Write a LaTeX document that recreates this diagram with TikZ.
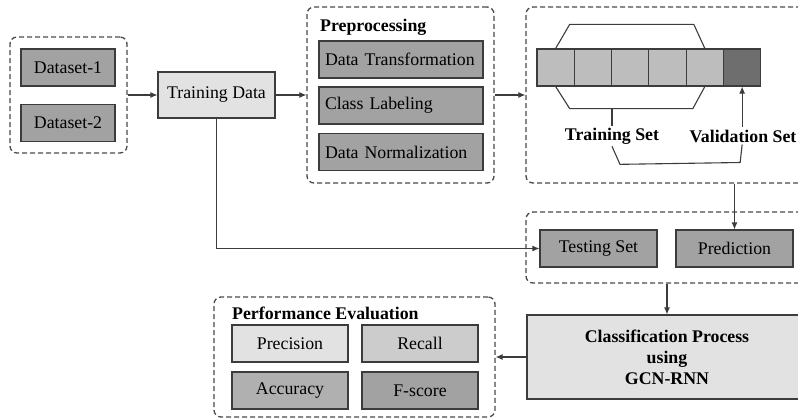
\documentclass[tikz,border=0pt]{standalone}
\usepackage{fontspec}
\setmainfont{Liberation Serif}
\usepackage{xcolor}
\usepackage{tikz}
\usetikzlibrary{calc,arrows.meta}
\definecolor{edge}{HTML}{3C3C3C}
\definecolor{dash}{HTML}{4A4A4A}
\definecolor{dark}{HTML}{A2A2A2}
\definecolor{light}{HTML}{E2E2E2}
\definecolor{cell}{HTML}{BDBDBD}
\definecolor{cellv}{HTML}{6E6E6E}
\definecolor{mid}{HTML}{CCCCCC}
\definecolor{midd}{HTML}{B0B0B0}
\tikzset{
  box/.style={draw=edge, line width=1.1pt, inner sep=0pt, font=\fontsize{17.8}{21}\selectfont},
  grp/.style={draw=dash, dashed, dash pattern=on 5pt off 3pt, line width=1.3pt, rounded corners=7pt, inner sep=0pt},
  conn/.style={draw=edge, line width=1.1pt},
  arr/.style={conn, -{Latex[length=7pt,width=6pt]}},
  ttl/.style={font=\fontsize{17.8}{21}\selectfont\bfseries, inner sep=0pt, anchor=west},
  lab/.style={font=\fontsize{17.8}{21}\selectfont\bfseries, inner sep=2pt},
}

\begin{document}
\begin{tikzpicture}[x=1pt,y=-1pt]
  \useasboundingbox (0,0) rectangle (798,420);
  \clip (0,0) rectangle (798,420);

  % input
  \node[grp, minimum width=117, minimum height=116] (grpdata) at (68.5,95) {};
  \node[box, fill=dark, minimum width=94, minimum height=37] (ds1) at (68,67.5) {Dataset-1};
  \node[box, fill=dark, minimum width=94, minimum height=37] (ds2) at (68,123) {Dataset-2};
  \node[box, fill=light, minimum width=117, minimum height=46] (train) at (216.5,95) {Training Data};

  % preprocessing
  \node[grp, minimum width=187, minimum height=176] (grppre) at (400.5,95) {};
  \node[ttl] (tpre) at (320,27) {Preprocessing};
  \foreach \nm/\txt/\yy in {trf/Data Transformation/59.5, cls/Class Labeling/105.5, nrm/Data Normalization/152}
    \node[box, fill=dark, minimum width=164, minimum height=37, text width=152, align=left] (\nm) at (401,\yy) {\txt};

  % split
  \node[grp, minimum width=290, minimum height=176] (grpsplit) at (671,95) {};
  \foreach \i in {1,...,5}
    \node[box, fill=cell, minimum width=37.3, minimum height=37] (c\i) at ({537+18.65+(\i-1)*37.3},67.5) {};
  \node[box, fill=cellv, minimum width=37.3, minimum height=37] (c6) at ({537+18.65+5*37.3},67.5) {};
  \node[lab] (tset) at (612,136) {Training Set};
  \node[lab] (vset) at (743,136) {Validation Set};
  \coordinate (lbl) at ($(c1.south)+(14,22)$);
  \draw[conn] (c1.north) -- ++(14,-24) -- ($(c5.north)+(-11,-24)$) -- (c5.north);
  \draw[conn] (c1.south) -- (lbl) -- ($(c5.south)+(-12,22)$) -- (c5.south);
  \draw[conn] (tset.north) -- (tset.north |- lbl);
  \draw[conn] (tset.south) -- ++(8,18) -- ($(vset.south -| c6.south)+(-2,18)$) -- (vset.south -| c6.south);
  \draw[arr] (vset.north -| c6.south) -- (c6.south);

  % testing
  \node[grp, minimum width=290, minimum height=71] (grptest) at (671,247.5) {};
  \node[box, fill=dark, minimum width=117, minimum height=37] (test) at (598.5,248.5) {Testing Set};
  \node[box, fill=dark, minimum width=117, minimum height=37] (pred) at (734.5,248.5) {Prediction};

  % classification
  \node[box, fill=light, minimum width=280, minimum height=84, align=center, font=\fontsize{17.8}{21}\selectfont\bfseries] (gcn) at (667,357) {Classification Process\\using\\GCN-RNN};

  % evaluation
  \node[grp, minimum width=281, minimum height=120] (grpperf) at (354.5,357) {};
  \node[ttl] (tperf) at (232,313) {Performance Evaluation};
  \node[box, fill=light, minimum width=116, minimum height=37] (prec) at (290,343.5) {Precision};
  \node[box, fill=mid, minimum width=116, minimum height=37] (rec) at (420,343.5) {Recall};
  \node[box, fill=midd, minimum width=116, minimum height=37] (acc) at (290,390.5) {Accuracy};
  \node[box, fill=dark, minimum width=116, minimum height=37] (fsc) at (420,390.5) {F-score};

  % flow
  \draw[arr] (grpdata) -- (train);
  \draw[arr] (train) -- (grppre);
  \draw[arr] (grppre) -- (grpsplit);
  \draw[arr] (train.south) |- (test.west);
  \draw[arr] (grpsplit.south -| pred.north) -- (pred.north);
  \draw[arr] (grptest.south -| gcn.north) -- (gcn.north);
  \draw[arr] (gcn.west) -- (gcn.west -| grpperf.east);
\end{tikzpicture}
\end{document}
